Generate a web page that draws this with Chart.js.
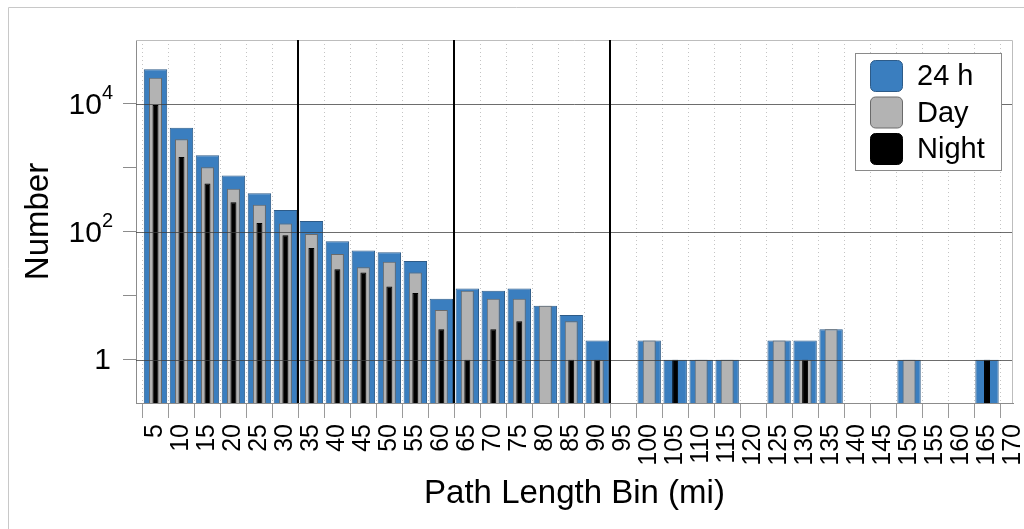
<!DOCTYPE html>
<html>
<head>
<meta charset="utf-8">
<script src="https://cdn.jsdelivr.net/npm/chart.js@4.4.1/dist/chart.umd.min.js"></script>
<style>
  html, body { margin: 0; padding: 0; background: #fff; }
  #wrap { position: relative; width: 1024px; height: 529px; }
</style>
</head>
<body>
<div id="wrap"><canvas id="c"></canvas></div>
<script>
// Path-length bins (upper edge, miles) – also used as the x tick labels
const bins = [5, 10, 15, 20, 25, 30, 35, 40, 45, 50, 55, 60, 65, 70, 75, 80, 85,
              90, 95, 100, 105, 110, 115, 120, 125, 130, 135, 140, 145, 150, 155,
              160, 165, 170];

// Counts per bin (0 = empty bin, not drawn on the log axis)
const total24h = [35000, 4260, 1580, 760, 400, 220, 148, 71, 51, 48, 35, 9, 13, 12,
                  13, 7, 5, 2, 0, 2, 1, 1, 1, 0, 2, 2, 3, 0, 0, 1, 0, 0, 1, 0];
const dayCounts = [25700, 2800, 1020, 470, 265, 135, 92, 45, 28, 34, 23, 6, 12, 9,
                   9, 7, 4, 1, 0, 2, 0, 1, 1, 0, 2, 1, 3, 0, 0, 1, 0, 0, 0, 0];
const nightCounts = [9600, 1480, 570, 290, 137, 88, 56, 26, 23, 14, 11, 3, 1, 3,
                     4, 0, 1, 1, 0, 0, 1, 0, 0, 0, 0, 1, 0, 0, 0, 0, 0, 0, 1, 0];

const seriesNames = ['24 h', 'Day', 'Night'];

// Log axis: tick marks every decade, labels and solid grid lines on even decades
const yTickValues = [1, 10, 100, 1000, 10000];
const yLabelValues = [1, 100, 10000];
const yLabelBase = ['1', '10', '10'];
const yLabelExp = ['', '2', '4'];
const majorGridValues = [1, 100, 10000];

// Range-class separators (miles)
const dividerValues = [32.5, 62.5, 92.5];

const FONT = '"Liberation Sans", Arial, Helvetica, sans-serif';

const toPoints = arr => bins.map((b, i) => ({ x: b, y: arr[i] > 0 ? arr[i] : null }));

const overlayPlugin = {
  id: 'overlay',
  beforeDraw(chart) {
    const ctx = chart.ctx;
    ctx.save();
    ctx.strokeStyle = '#c8c8c8';
    ctx.lineWidth = 1;
    ctx.beginPath();
    ctx.moveTo(8.5, chart.height);
    ctx.lineTo(8.5, 7.5);
    ctx.lineTo(chart.width, 7.5);
    ctx.stroke();
    ctx.restore();
  },
  afterDatasetsDraw(chart) {
    const { ctx, chartArea: a, scales: { x, y } } = chart;
    ctx.save();
    // solid grid lines on top of the bars
    ctx.strokeStyle = 'rgba(60,60,60,0.75)';
    ctx.lineWidth = 1;
    majorGridValues.forEach(v => {
      const py = Math.round(y.getPixelForValue(v)) + 0.5;
      ctx.beginPath();
      ctx.moveTo(a.left, py);
      ctx.lineTo(a.right, py);
      ctx.stroke();
    });
    // top and right frame
    ctx.strokeStyle = '#bdbdbd';
    ctx.beginPath();
    ctx.moveTo(a.left, a.top + 0.5);
    ctx.lineTo(a.right - 0.5, a.top + 0.5);
    ctx.lineTo(a.right - 0.5, a.bottom);
    ctx.stroke();
    // range separators
    ctx.strokeStyle = '#000';
    ctx.lineWidth = 2;
    dividerValues.forEach(v => {
      const px = Math.round(x.getPixelForValue(v));
      ctx.beginPath();
      ctx.moveTo(px, a.top);
      ctx.lineTo(px, a.bottom);
      ctx.stroke();
    });
    ctx.restore();
  },
  afterDraw(chart) {
    const { ctx, chartArea: a, scales: { y } } = chart;
    ctx.save();
    // legend
    const w = 147, h = 118;
    const lx = a.right - 11 - w, ly = a.top + 13;
    ctx.fillStyle = '#fff';
    ctx.fillRect(lx, ly, w, h);
    ctx.strokeStyle = '#8a8a8a';
    ctx.lineWidth = 1;
    ctx.strokeRect(lx + 0.5, ly + 0.5, w - 1, h - 1);
    chart.data.datasets.forEach((ds, i) => {
      const sx = lx + 15, sy = ly + 7 + i * 36.5;
      ctx.beginPath();
      ctx.roundRect(sx + 0.5, sy + 0.5, 32, 31, 5);
      ctx.fillStyle = ds.backgroundColor;
      ctx.fill();
      ctx.strokeStyle = ds.borderColor;
      ctx.lineWidth = 1;
      ctx.stroke();
      ctx.fillStyle = '#000';
      ctx.font = '29px ' + FONT;
      ctx.textAlign = 'left';
      ctx.textBaseline = 'middle';
      ctx.fillText(ds.label, lx + 62, sy + 17);
    });
    // y tick labels with superscript exponents
    const R = 113;
    ctx.fillStyle = '#000';
    ctx.textAlign = 'right';
    ctx.textBaseline = 'middle';
    yLabelValues.forEach((v, i) => {
      const py = y.getPixelForValue(v);
      if (yLabelExp[i]) {
        ctx.font = '20px ' + FONT;
        const supW = ctx.measureText(yLabelExp[i]).width;
        ctx.fillText(yLabelExp[i], R, py - 10);
        ctx.font = '30px ' + FONT;
        ctx.fillText(yLabelBase[i], R - supW, py + 2);
      } else {
        ctx.font = '30px ' + FONT;
        ctx.fillText(yLabelBase[i], R - 2, py + 1);
      }
    });
    ctx.restore();
  }
};

new Chart(document.getElementById('c'), {
  type: 'bar',
  data: {
    datasets: [
      {
        label: seriesNames[0], data: toPoints(total24h),
        backgroundColor: '#3a7ebf', borderColor: '#2d5b88', borderWidth: 1,
        barPercentage: 0.9, categoryPercentage: 1, grouped: false, order: 3
      },
      {
        label: seriesNames[1], data: toPoints(dayCounts),
        backgroundColor: '#b3b3b3', borderColor: '#6a6a6a', borderWidth: 1,
        barPercentage: 0.5, categoryPercentage: 1, grouped: false, order: 2
      },
      {
        label: seriesNames[2], data: toPoints(nightCounts),
        backgroundColor: '#000000', borderColor: '#000000', borderWidth: 1,
        barPercentage: 0.23, categoryPercentage: 1, grouped: false, order: 1
      }
    ]
  },
  options: {
    responsive: true,
    maintainAspectRatio: false,
    devicePixelRatio: 1,
    animation: false,
    layout: { padding: { top: 40, right: 11, bottom: 0, left: 0 } },
    plugins: { legend: { display: false }, tooltip: { enabled: false } },
    scales: {
      x: {
        type: 'linear',
        min: 1.25,
        max: 170,
        offset: false,
        afterBuildTicks: s => { s.ticks = bins.map(v => ({ value: v })); },
        afterFit: s => { s.height = 126; s.paddingLeft = 0; s.paddingRight = 0; },
        ticks: {
          autoSkip: false, minRotation: 90, maxRotation: 90, padding: 6,
          color: '#000', font: { family: FONT, size: 25 },
          callback: v => String(v)
        },
        grid: {
          offset: true, color: '#c4c4c4', lineWidth: 1,
          tickLength: 15, tickColor: '#9a9a9a', tickBorderDash: []
        },
        border: { display: true, color: '#8c8c8c', width: 1, dash: [1, 3] },
        title: {
          display: true, text: 'Path Length Bin (mi)', color: '#000',
          font: { family: FONT, size: 33 }, padding: { top: 0, bottom: 15 }
        }
      },
      y: {
        type: 'logarithmic',
        min: 0.21,
        max: 100000,
        afterBuildTicks: s => { s.ticks = yTickValues.map(v => ({ value: v })); },
        afterFit: s => { s.width = 136; s.paddingTop = 0; s.paddingBottom = 0; },
        ticks: { callback: () => '', font: { family: FONT, size: 10 } },
        grid: {
          drawOnChartArea: false, drawTicks: true, tickLength: 13,
          color: '#8c8c8c', tickColor: '#8c8c8c'
        },
        border: { display: true, color: '#8c8c8c', width: 1 },
        title: {
          display: true, text: 'Number', color: '#000',
          font: { family: FONT, size: 33 }, padding: { top: 19, bottom: 0 }
        }
      }
    }
  },
  plugins: [overlayPlugin]
});
</script>
</body>
</html>
